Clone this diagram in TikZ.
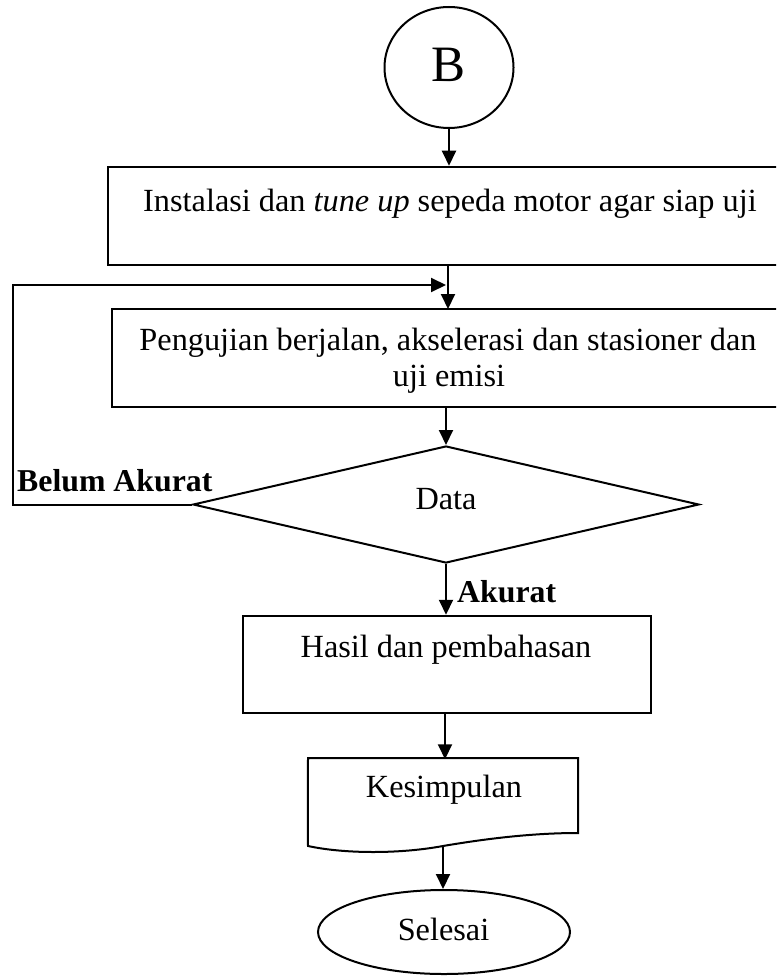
\documentclass[tikz,border=0pt]{standalone}
\usepackage{fontspec}
\setmainfont{Liberation Serif}
\usetikzlibrary{arrows.meta,shapes.geometric}
\begin{document}
\begin{tikzpicture}[x=1pt,y=-1pt,
  box/.style={draw,line width=2.5pt,rectangle,minimum width=#1,inner sep=0pt},
  shp/.style={draw,line width=2pt,inner sep=0pt},
  arr/.style={line width=2pt,-{Triangle[length=15pt,width=14pt]}},
  lbl/.style={anchor=base,inner sep=0pt,font=\fontsize{32.3}{36}\selectfont},
  blbl/.style={anchor=base west,inner sep=0pt,font=\fontsize{31.8}{36}\selectfont\bfseries}]
\useasboundingbox (0,0) rectangle (776,976);
\clip (0,0) rectangle (776,976);
% shapes
\node[shp,ellipse,minimum width=129pt,minimum height=121pt] (B) at (449,67.5) {};
\node[box=690pt,minimum height=98pt] (box1) at (453,216) {};
\node[box=686pt,minimum height=98pt] (box2) at (455,358) {};
\node[shp,diamond,minimum width=506pt,minimum height=117pt] (D) at (446,504.5) {};
\node[box=408pt,minimum height=97pt] (box3) at (447,664.5) {};
\node[draw=none,minimum width=270pt,minimum height=75pt,inner sep=0pt] (doc) at (443,795.5) {};
\draw[line width=2pt] (doc.south west) -- (308,758) -- (578,758) -- (578,833)
  .. controls (535,833) and (490,838) .. (443,846)
  .. controls (400,854) and (345,854) .. (308,846) -- cycle;
\coordinate (docbot) at (443,846);
\node[shp,ellipse,minimum width=252pt,minimum height=84pt] (E) at (444,932) {};
% texts
\node[lbl,font=\fontsize{51}{56}\selectfont] (tB) at (448.5,82) {B};
\node[lbl] (t1) at (450,212) {Instalasi dan \textit{tune up} sepeda motor agar siap uji};
\node[lbl] (t2a) at (448,350) {Pengujian berjalan, akselerasi dan stasioner dan};
\node[lbl] (t2b) at (449,386) {uji emisi};
\node[lbl] (tD) at (446,509) {Data};
\node[lbl] (t3) at (446,657) {Hasil dan pembahasan};
\node[lbl] (t4) at (444,797) {Kesimpulan};
\node[lbl] (t5) at (443.5,940) {Selesai};
\node[blbl] (ya) at (457,602) {Akurat};
\node[blbl] (no) at (17,491) {Belum Akurat};
% connectors
\coordinate (loopend) at (446,285);
\draw[arr] (B.south) -- (B.south |- box1.north);
\draw[arr] (448,265) -- (448,309);
\draw[arr] (box2.south -| D.north) -- (D.north);
\draw[arr] (D.south) -- (D.south |- box3.north);
\draw[arr] (box3.south -| docbot) ++(2,0) -- ++(0,45);
\draw[arr] (docbot) -- (docbot |- E.north);
\draw[arr] (D.west) -- (13,504.5) |- (loopend);
\end{tikzpicture}
\end{document}
